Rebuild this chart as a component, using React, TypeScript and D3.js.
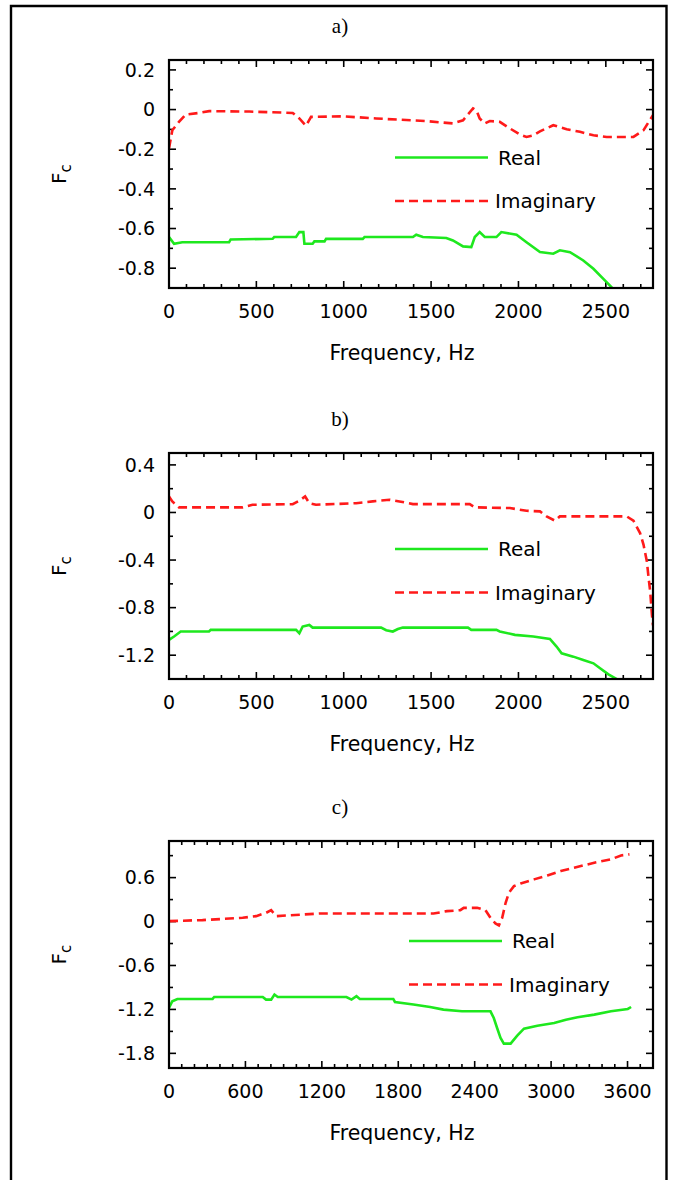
import React from "react";
import * as d3 from "d3";

// ---------- Panel a ----------
const aRealFreq = [0, 29, 76, 344, 353, 593, 602, 727, 746, 769, 775, 822, 832, 890, 899, 1109, 1119, 1396, 1415, 1453, 1587, 1625, 1683, 1730, 1750, 1778, 1807, 1874, 1902, 1989, 2046, 2123, 2199, 2237, 2295, 2371, 2429, 2486, 2533, 2570];
const aRealVal = [-0.643, -0.677, -0.669, -0.669, -0.655, -0.652, -0.643, -0.643, -0.618, -0.618, -0.677, -0.677, -0.665, -0.665, -0.652, -0.652, -0.643, -0.643, -0.631, -0.643, -0.648, -0.66, -0.69, -0.694, -0.643, -0.618, -0.643, -0.643, -0.618, -0.631, -0.669, -0.719, -0.727, -0.71, -0.719, -0.761, -0.803, -0.854, -0.896, -0.96];
const aImagFreq = [0, 19, 57, 96, 172, 230, 459, 708, 746, 784, 813, 994, 1186, 1472, 1625, 1683, 1740, 1760, 1778, 1807, 1836, 1893, 1951, 2008, 2046, 2085, 2123, 2199, 2276, 2352, 2429, 2505, 2658, 2716, 2770];
const aImagVal = [-0.196, -0.104, -0.062, -0.025, -0.017, -0.008, -0.01, -0.017, -0.045, -0.082, -0.037, -0.034, -0.045, -0.058, -0.07, -0.054, 0.006, -0.005, -0.045, -0.07, -0.058, -0.062, -0.095, -0.126, -0.138, -0.13, -0.11, -0.079, -0.099, -0.112, -0.13, -0.138, -0.138, -0.104, -0.028];
const aXTicks = [0, 500, 1000, 1500, 2000, 2500];
const aYTicks = [0.2, 0, -0.2, -0.4, -0.6, -0.8];

// ---------- Panel b ----------
const bRealFreq = [0, 29, 67, 229, 239, 727, 746, 765, 803, 822, 1214, 1243, 1281, 1310, 1338, 1711, 1730, 1874, 1893, 1980, 2085, 2180, 2218, 2247, 2314, 2371, 2429, 2467, 2515, 2562, 2600];
const bRealVal = [-1.071, -1.043, -1.001, -1.001, -0.987, -0.987, -1.015, -0.959, -0.945, -0.968, -0.968, -0.99, -1.001, -0.98, -0.968, -0.968, -0.987, -0.987, -1.0, -1.029, -1.043, -1.063, -1.127, -1.184, -1.212, -1.24, -1.268, -1.31, -1.361, -1.4, -1.45];
const bImagFreq = [0, 19, 57, 421, 478, 708, 746, 779, 803, 841, 1071, 1166, 1262, 1319, 1396, 1721, 1750, 1951, 2046, 2123, 2161, 2209, 2237, 2620, 2658, 2696, 2716, 2735, 2745, 2754, 2764, 2770];
const bImagVal = [0.135, 0.093, 0.043, 0.043, 0.065, 0.07, 0.099, 0.135, 0.078, 0.065, 0.078, 0.093, 0.107, 0.093, 0.07, 0.07, 0.043, 0.037, 0.014, 0.009, -0.033, -0.069, -0.033, -0.033, -0.069, -0.173, -0.272, -0.412, -0.552, -0.665, -0.861, -0.95];
const bXTicks = [0, 500, 1000, 1500, 2000, 2500];
const bYTicks = [0.4, 0, -0.4, -0.8, -1.2];

// ---------- Panel c ----------
const cRealFreq = [0, 26, 66, 342, 355, 736, 762, 802, 828, 854, 1393, 1433, 1472, 1498, 1761, 1774, 1919, 2050, 2155, 2300, 2524, 2550, 2576, 2603, 2629, 2682, 2734, 2787, 2892, 3024, 3116, 3208, 3339, 3470, 3602, 3628];
const cRealVal = [-1.18, -1.089, -1.057, -1.057, -1.03, -1.03, -1.066, -1.066, -0.997, -1.03, -1.03, -1.066, -1.02, -1.057, -1.057, -1.098, -1.134, -1.167, -1.203, -1.226, -1.226, -1.317, -1.454, -1.59, -1.667, -1.667, -1.558, -1.463, -1.422, -1.386, -1.34, -1.308, -1.271, -1.226, -1.194, -1.167];
const cImagFreq = [0, 263, 578, 684, 762, 802, 841, 1183, 2077, 2182, 2287, 2314, 2419, 2485, 2524, 2563, 2590, 2616, 2643, 2669, 2708, 2761, 2866, 2971, 3076, 3181, 3339, 3470, 3549, 3615];
const cImagVal = [0.006, 0.02, 0.051, 0.074, 0.119, 0.155, 0.074, 0.11, 0.11, 0.142, 0.155, 0.187, 0.187, 0.155, 0.051, -0.026, -0.053, 0.051, 0.256, 0.393, 0.484, 0.52, 0.576, 0.63, 0.69, 0.735, 0.803, 0.849, 0.903, 0.917];
const cXTicks = [0, 600, 1200, 1800, 2400, 3000, 3600];
const cYTicks = [0.6, 0, -0.6, -1.2, -1.8];

const titles = ["a)", "b)", "c)"];
const seriesNames = ["Real", "Imaginary"];

const GREEN = "#1ee81e";
const RED = "#ff1a1a";
const SANS = "'DejaVu Sans', sans-serif";

type Panel = {
  id: string;
  title: string;
  top: number;
  bottom: number;
  xMax: number;
  yDomain: [number, number];
  xTicks: number[];
  xMinorStep: number;
  yTicks: number[];
  yMinorStep: number;
  real: [number, number][];
  imag: [number, number][];
  legendX: number;
  legendY: number;
};

const zip = (f: number[], v: number[]) => f.map((x, i) => [x, v[i]] as [number, number]);

const panels: Panel[] = [
  { id: "a", title: titles[0], top: 60, bottom: 288, xMax: 2770, yDomain: [-0.9, 0.25], xTicks: aXTicks, xMinorStep: 100, yTicks: aYTicks, yMinorStep: 0.1, real: zip(aRealFreq, aRealVal), imag: zip(aImagFreq, aImagVal), legendX: 395, legendY: 157.5 },
  { id: "b", title: titles[1], top: 453, bottom: 679, xMax: 2770, yDomain: [-1.4, 0.5], xTicks: bXTicks, xMinorStep: 100, yTicks: bYTicks, yMinorStep: 0.2, real: zip(bRealFreq, bRealVal), imag: zip(bImagFreq, bImagVal), legendX: 395, legendY: 549 },
  { id: "c", title: titles[2], top: 841, bottom: 1068, xMax: 3800, yDomain: [-2.0, 1.1], xTicks: cXTicks, xMinorStep: 100, yTicks: cYTicks, yMinorStep: 0.3, real: zip(cRealFreq, cRealVal), imag: zip(cImagFreq, cImagVal), legendX: 409, legendY: 941 },
];

const LEFT = 169;
const RIGHT = 653;

const fmt = (v: number) => (Math.abs(v) < 1e-9 ? "0" : String(+v.toFixed(2)));

function PanelView({ p }: { p: Panel }) {
  const x = d3.scaleLinear().domain([0, p.xMax]).range([LEFT, RIGHT]);
  const y = d3.scaleLinear().domain(p.yDomain).range([p.bottom, p.top]);
  const line = d3
    .line<[number, number]>()
    .x((d) => x(d[0]))
    .y((d) => y(d[1]));
  const xMinor = d3.range(0, p.xMax + 1e-6, p.xMinorStep);
  const n0 = Math.ceil((p.yDomain[0] - 1e-9) / p.yMinorStep);
  const n1 = Math.floor((p.yDomain[1] + 1e-9) / p.yMinorStep);
  const yMinor = d3.range(n0, n1 + 1).map((k) => k * p.yMinorStep);
  const isMajorX = (v: number) => p.xTicks.some((t) => Math.abs(t - v) < 1e-6);
  const isMajorY = (v: number) => p.yTicks.some((t) => Math.abs(t - v) < 1e-6);
  const clipId = `clip-${p.id}`;
  const midY = (p.top + p.bottom) / 2;
  return (
    <g>
      <defs>
        <clipPath id={clipId}>
          <rect x={LEFT} y={p.top} width={RIGHT - LEFT} height={p.bottom - p.top} />
        </clipPath>
      </defs>
      <text x={340} y={p.top - 27.5} textAnchor="middle" fontFamily="'Liberation Serif', 'Times New Roman', serif" fontSize={21}>
        {p.title}
      </text>
      {/* ticks */}
      {xMinor.map((v) => {
        const len = isMajorX(v) ? 7 : 4;
        const xx = x(v);
        return (
          <g key={`xt${v}`} stroke="#000" strokeWidth={1.6}>
            <line x1={xx} x2={xx} y1={p.bottom} y2={p.bottom - len} />
            <line x1={xx} x2={xx} y1={p.top} y2={p.top + len} />
          </g>
        );
      })}
      {yMinor.map((v) => {
        const len = isMajorY(v) ? 7 : 4;
        const yy = y(v);
        return (
          <g key={`yt${v}`} stroke="#000" strokeWidth={1.6}>
            <line x1={LEFT} x2={LEFT + len} y1={yy} y2={yy} />
            <line x1={RIGHT} x2={RIGHT - len} y1={yy} y2={yy} />
          </g>
        );
      })}
      {/* series */}
      <g clipPath={`url(#${clipId})`}>
        <path d={line(p.imag) || ""} fill="none" stroke={RED} strokeWidth={2.6} strokeDasharray="9,5" />
        <path d={line(p.real) || ""} fill="none" stroke={GREEN} strokeWidth={2.6} />
      </g>
      {/* frame */}
      <rect x={LEFT} y={p.top} width={RIGHT - LEFT} height={p.bottom - p.top} fill="none" stroke="#000" strokeWidth={2.2} />
      {/* tick labels */}
      {p.xTicks.map((v) => (
        <text key={`xl${v}`} x={x(v)} y={p.bottom + 30} textAnchor="middle" fontFamily={SANS} fontSize={19}>
          {fmt(v)}
        </text>
      ))}
      {p.yTicks.map((v) => (
        <text key={`yl${v}`} x={155} y={y(v)} dy="0.36em" textAnchor="end" fontFamily={SANS} fontSize={19}>
          {fmt(v)}
        </text>
      ))}
      {/* axis labels */}
      <text x={402} y={p.bottom + 72} textAnchor="middle" fontFamily={SANS} fontSize={20.5}>
        Frequency, Hz
      </text>
      <text transform={`translate(66, ${midY}) rotate(-90)`} textAnchor="middle" fontFamily={SANS} fontSize={20}>
        F<tspan fontSize={15} dy={5}>c</tspan>
      </text>
      {/* legend */}
      <line x1={p.legendX} x2={p.legendX + 93} y1={p.legendY} y2={p.legendY} stroke={GREEN} strokeWidth={2.6} />
      <text x={p.legendX + 103} y={p.legendY} dy="0.36em" fontFamily={SANS} fontSize={20}>
        {seriesNames[0]}
      </text>
      <line x1={p.legendX} x2={p.legendX + 93} y1={p.legendY + 43.5} y2={p.legendY + 43.5} stroke={RED} strokeWidth={2.6} strokeDasharray="9,5" />
      <text x={p.legendX + 100} y={p.legendY + 43.5} dy="0.36em" fontFamily={SANS} fontSize={20}>
        {seriesNames[1]}
      </text>
    </g>
  );
}

export default function App() {
  return (
    <svg
      width={674}
      height={1180}
      style={{ position: "absolute", left: 0, top: 0, background: "#fff" }}
    >
      <rect x={0} y={0} width={674} height={1180} fill="#fff" />
      <path d="M11,1180 V6 H666.5 V1180" fill="none" stroke="#000" strokeWidth={2.4} />
      {panels.map((p) => (
        <PanelView key={p.id} p={p} />
      ))}
    </svg>
  );
}
